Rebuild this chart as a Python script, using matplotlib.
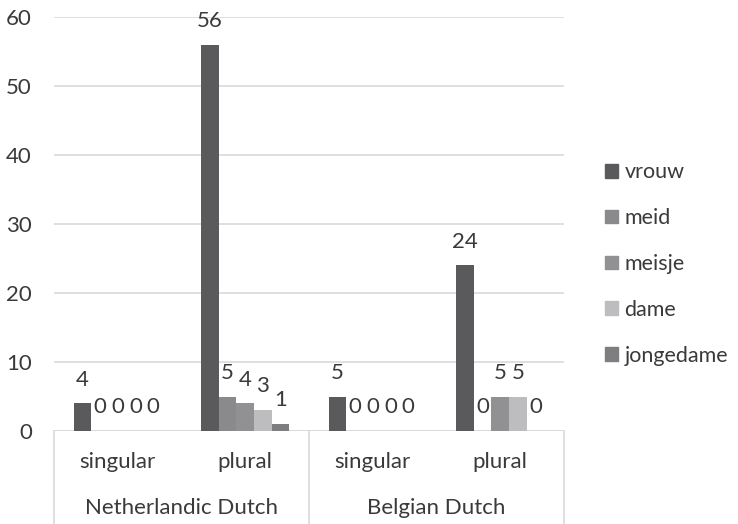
import matplotlib.pyplot as plt
from matplotlib.patches import Patch
import numpy as np

plt.rcParams['font.family'] = ['Lato', 'DejaVu Sans']

categories = ['singular', 'plural', 'singular', 'plural']
groups = ['Netherlandic Dutch', 'Belgian Dutch']
series = ['vrouw', 'meid', 'meisje', 'dame', 'jongedame']
vrouw = [4, 56, 5, 24]
meid = [0, 5, 0, 0]
meisje = [0, 4, 0, 5]
dame = [0, 3, 0, 5]
jongedame = [0, 1, 0, 0]
values = [vrouw, meid, meisje, dame, jongedame]
colors = ['#5a5a5c', '#8a8a8c', '#919193', '#bdbdbf', '#7e7e81']

txt = '#3a3a3a'
grid = '#d9d9d9'
fs = 16

fig = plt.figure(figsize=(7.38, 5.24), dpi=100)
ax = fig.add_axes([54/738, 1-431/524, 510/738, 414/524])

x = np.arange(len(categories))
w = 0.138
for i, (name, vals) in enumerate(zip(series, values)):
    bars = ax.bar(x + (i-2)*w, vals, w, color=colors[i], label=name, zorder=3)
    ax.bar_label(bars, padding=10, fontsize=fs, color=txt)

ax.set_xlim(-0.5, 3.5)
ax.set_ylim(0, 60)
ax.set_yticks(range(0, 61, 10))
ax.yaxis.grid(True, color=grid, linewidth=1.2, zorder=0)
ax.tick_params(axis='y', length=0, pad=16, labelsize=fs, labelcolor=txt)
ax.set_xticks([])
for s in ax.spines.values():
    s.set_visible(False)
ax.axhline(0, color=grid, linewidth=1.2, zorder=2)

# multi-level category axis
tr = ax.get_xaxis_transform()
for xv in [-0.5, 1.5, 3.5]:
    ax.plot([xv, xv], [0, -0.3], transform=tr, color=grid, lw=1.2, clip_on=False)
for xi, c in zip(x, categories):
    ax.text(xi, -0.075, c, transform=tr, ha='center', va='center', fontsize=fs, color=txt)
for gi, g in enumerate(groups):
    ax.text(gi*2 + 0.5, -0.186, g, transform=tr, ha='center', va='center', fontsize=fs, color=txt)

handles = [Patch(color=c) for c in colors]
fig.legend(handles, series, loc='center left', bbox_to_anchor=(605/738, 1-264/524),
           frameon=False, fontsize=15.5, labelcolor=txt, handlelength=0.6, handleheight=0.6,
           handletextpad=0.3, labelspacing=1.2, borderpad=0, borderaxespad=0)

fig.savefig('out.png', dpi=100)
